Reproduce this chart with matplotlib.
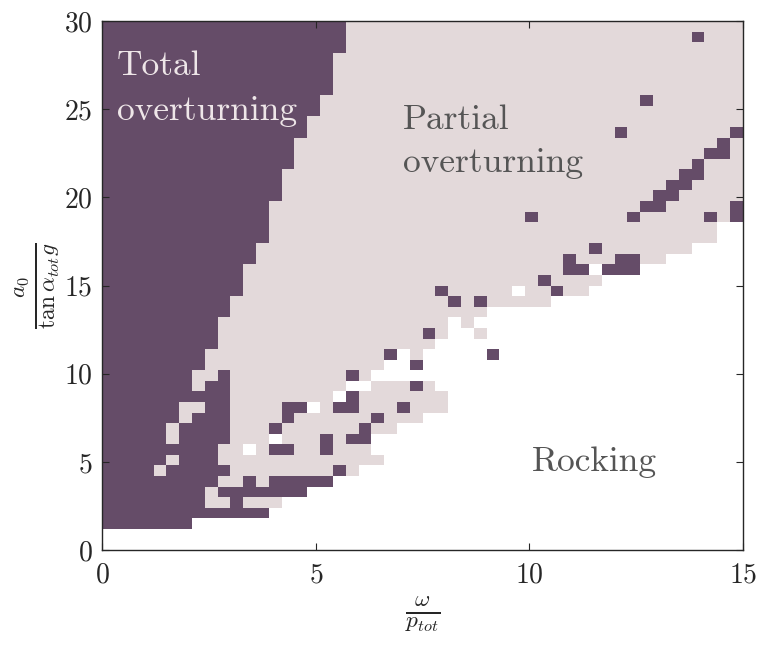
import re
import numpy as np
import matplotlib
matplotlib.use("Agg")
import matplotlib.pyplot as plt
from matplotlib.colors import ListedColormap

plt.rcParams['font.family'] = 'serif'
plt.rcParams['font.serif'] = ['cmr10', 'DejaVu Serif']
plt.rcParams['mathtext.fontset'] = 'cm'
plt.rcParams['axes.formatter.use_mathtext'] = True

# Grid axes: omega/p_tot (x) and a0/(tan(alpha) g) (y), cell edges
omega_edges = np.linspace(0, 15, 51)
accel_edges = np.linspace(0, 30, 51)

# Response class per cell, run-length encoded, one row per acceleration level
# (top row first).  W = rocking, L = partial overturning, D = total overturning
rows_top_to_bottom = [
    "19D31L",
    "19D27L1D3L",
    "19D31L",
    "18D32L",
    "18D32L",
    "18D32L",
    "18D32L",
    "17D25L1D7L",
    "17D33L",
    "16D34L",
    "16D24L1D8L1D",
    "15D33L1D1L",
    "15D32L2D1L",
    "15D31L1D3L",
    "14D31L2D3L",
    "14D30L2D4L",
    "14D29L2D5L",
    "13D29L2D5L1D",
    "13D20L1D7L1D5L1D1L1D",
    "13D35L2W",
    "13D35L2W",
    "12D26L1D7L4W",
    "12D24L1D3L2D2L6W",
    "11D25L2D1W3D8W",
    "11D23L1D4L11W",
    "11D15L1D5L1W2L1D2L12W",
    "10D17L1D1L1D5L15W",
    "10D20L20W",
    "9D18L1W1L21W",
    "9D16L1D1L2W1L20W",
    "9D17L24W",
    "8D14L1D1W1L5W1D19W",
    "8D14L2W1D25W",
    "7D2L1D9L1D1L29W",
    "7D1L2D9L2W3L1D1L24W",
    "10D8L1W1D7L23W",
    "6D2L2D4L2D1W1L2D3L1D3L23W",
    "6D1L3D4L1D6L1D3L25W",
    "5D1L4D3L1D6L1D2L27W",
    "5D1L4D3L1W3L1D1L2D29W",
    "9D2L1W1L2D2L1D3L29W",
    "5D1L3D13L28W",
    "4D1L5D8L1D1L30W",
    "9D2L1D1L5D32W",
    "8D1L7D34W",
    "8D2L1D3L36W",
    "13D37W",
    "7D43W",
    "50W",
    "50W",
]
class_codes = {"W": 0, "L": 1, "D": 2}

labels_total = ["Total", "overturning"]
labels_partial = ["Partial", "overturning"]
label_rocking = "Rocking"


def decode(row):
    out = []
    for n, c in re.findall(r"(\d+)([WLD])", row):
        out += [class_codes[c]] * int(n)
    assert len(out) == 50, row
    return out


grid = np.array([decode(r) for r in rows_top_to_bottom])[::-1]

white = "#ffffff"
light = "#e3d9da"
dark = "#654c68"
cmap = ListedColormap([white, light, dark])

fig = plt.figure(figsize=(7.61, 6.51), dpi=100)
ax = fig.add_axes([0.1345, 0.155, 0.8415, 0.8125])
ax.pcolormesh(omega_edges, accel_edges, grid, cmap=cmap, vmin=-0.5, vmax=2.5,
              shading='flat')

ax.set_xlim(0, 15)
ax.set_ylim(0, 30)
ax.set_xticks([0, 5, 10, 15])
ax.set_yticks([0, 5, 10, 15, 20, 25, 30])
ax.tick_params(direction='in', top=True, right=True, labelsize=20,
               length=5, width=0.8, color='#262626', labelcolor='#262626')
ax.tick_params(axis='x', pad=9)
ax.tick_params(axis='y', pad=7)
for s in ax.spines.values():
    s.set_color('#262626')
    s.set_linewidth(1.0)

ax.set_xlabel(r'$\frac{\omega}{p_{tot}}$', fontsize=24, color='#262626', labelpad=4)
ax.set_ylabel(r'$\frac{a_0}{\tan\alpha_{tot}g}$', fontsize=24, color='#262626', labelpad=2)

txt_kw = dict(fontsize=25.5, va='baseline', ha='left')
ax.text(0.34, 26.94, labels_total[0], color='#eee6e8', **txt_kw)
ax.text(0.34, 24.39, labels_total[1], color='#eee6e8', **txt_kw)
ax.text(7.04, 23.88, labels_partial[0], color='#555555', **txt_kw)
ax.text(7.04, 21.44, labels_partial[1], color='#555555', **txt_kw)
ax.text(10.06, 4.5, label_rocking, color='#555555', **txt_kw)

fig.savefig("out.png", dpi=100)
